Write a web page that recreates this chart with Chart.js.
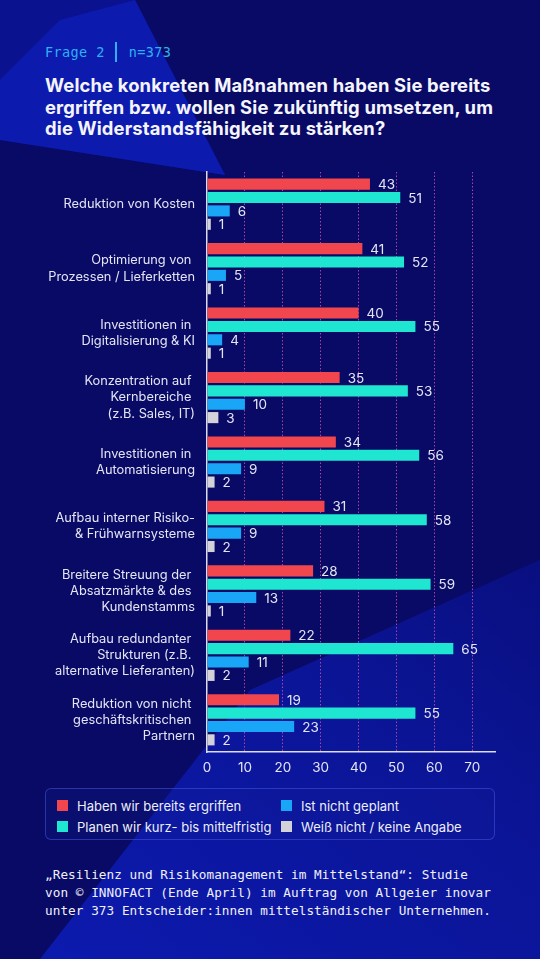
<!DOCTYPE html>
<html lang="de">
<head>
<meta charset="utf-8">
<script src="https://cdn.jsdelivr.net/npm/chart.js@4.4.1/dist/chart.umd.min.js"></script>
<style>
  html, body { margin: 0; padding: 0; }
  body {
    width: 540px; height: 959px; overflow: hidden; position: relative;
    background: #080a66; font-family: Inter, "Noto Sans", sans-serif;
  }
  #bg { position: absolute; left: 0; top: 0; }
  .frage {
    position: absolute; left: 45px; top: 42px; letter-spacing: 0.4px;
    font-family: "DejaVu Sans Mono", monospace; font-size: 13.5px; color: #2cb2f2;
  }
  .frage .sep { display: inline-block; width: 2px; height: 20px; background: #2cb2f2; vertical-align: -5px; margin: 0 12px 0 10px; }
  h1 {
    position: absolute; left: 45px; top: 75px; margin: 0; width: 490px;
    font-size: 18.4px; line-height: 21.5px; font-weight: 700; color: #f4f4fb;
    letter-spacing: 0.15px; white-space: nowrap;
  }
  #wrap { position: absolute; left: 0; top: 160px; width: 540px; height: 625px; }
  #legend {
    position: absolute; left: 45px; top: 788px; width: 448px; height: 50px;
    border: 1px solid rgba(70, 90, 230, 0.5); border-radius: 6px;
    background: rgba(20, 30, 150, 0.2);
  }
  .lg { position: absolute; font-size: 13px; color: #eceef8; white-space: nowrap; line-height: 16px; }
  .lg i { position: absolute; left: -20px; top: 2px; width: 11px; height: 11px; }
  .foot {
    position: absolute; left: 45px; top: 866px; margin: 0;
    font-family: "DejaVu Sans Mono", monospace; font-size: 12.7px; line-height: 18px; color: #f0f0f8;
    white-space: pre; letter-spacing: 0.05px;
  }
</style>
</head>
<body>
<svg id="bg" width="540" height="959">
  <defs>
    <linearGradient id="lr" x1="0" y1="1" x2="1" y2="0">
      <stop offset="0" stop-color="#0c1aae"/>
      <stop offset="0.6" stop-color="#0b1598"/>
      <stop offset="1" stop-color="#090f80"/>
    </linearGradient>
  </defs>
  <polygon points="0,0 135,0 225,175 0,140" fill="#0a1290"/>
  <polygon points="135,0 225,175 0,140 0,80 60,20" fill="#0c1aae"/>
  <polygon points="40,959 250,690 540,560 540,959" fill="url(#lr)"/>
</svg>

<div class="frage">Frage 2<span class="sep"></span>n=373</div>
<h1>Welche konkreten Maßnahmen haben Sie bereits<br>ergriffen bzw. wollen Sie zukünftig umsetzen, um<br>die Widerstandsfähigkeit zu stärken?</h1>

<div id="wrap"><canvas id="chart"></canvas></div>
<div id="legend"></div>

<p class="foot">„Resilienz und Risikomanagement im Mittelstand“: Studie
von © INNOFACT (Ende April) im Auftrag von Allgeier inovar
unter 373 Entscheider:innen mittelständischer Unternehmen.</p>

<script>
// Kategorien (mehrzeilige Beschriftungen)
const categories = [
    ['Reduktion von Kosten'],
    ['Optimierung von ', 'Prozessen / Lieferketten'],
    ['Investitionen in ', 'Digitalisierung & KI'],
    ['Konzentration auf ', 'Kernbereiche ', '(z.B. Sales, IT)'],
    ['Investitionen in ', 'Automatisierung'],
    ['Aufbau interner Risiko-', '& Frühwarnsysteme'],
    ['Breitere Streuung der ', 'Absatzmärkte & des ', 'Kundenstamms'],
    ['Aufbau redundanter ', 'Strukturen (z.B. ', 'alternative Lieferanten)'],
    ['Reduktion von nicht ', 'geschäftskritischen ', 'Partnern']
];

// Werte in Prozent
const habenErgriffen = [43, 41, 40, 35, 34, 31, 28, 22, 19];
const planenKurzMittel = [51, 52, 55, 53, 56, 58, 59, 65, 55];
const nichtGeplant = [6, 5, 4, 10, 9, 9, 13, 11, 23];
const weissNicht = [1, 1, 1, 3, 2, 2, 1, 2, 2];

const seriesLabels = [
    'Haben wir bereits ergriffen',
    'Planen wir kurz- bis mittelfristig',
    'Ist nicht geplant',
    'Weiß nicht / keine Angabe'
];
const seriesColors = ['#f2464f', '#1fe6d0', '#1aa6f6', '#d2d2d8'];

const xTicks = [0, 10, 20, 30, 40, 50, 60, 70];

const labelColor = '#e4e5f4';

// Wertbeschriftungen rechts neben den Balken
const valueLabels = {
    id: 'valueLabels',
    afterDatasetsDraw(chart) {
        const ctx = chart.ctx;
        ctx.save();
        ctx.font = '13.5px Inter, "Noto Sans", sans-serif';
        ctx.fillStyle = labelColor;
        ctx.textAlign = 'left';
        ctx.textBaseline = 'middle';
        chart.data.datasets.forEach((ds, i) => {
            const meta = chart.getDatasetMeta(i);
            meta.data.forEach((bar, j) => {
                ctx.fillText(String(ds.data[j]), bar.x + 8, bar.y + 1);
            });
        });
        ctx.restore();
    }
};

const chart = new Chart(document.getElementById('chart'), {
    type: 'bar',
    data: {
        labels: categories,
        datasets: [habenErgriffen, planenKurzMittel, nichtGeplant, weissNicht].map((data, i) => ({
            label: seriesLabels[i],
            data: data,
            backgroundColor: seriesColors[i],
            categoryPercentage: 0.83,
            barPercentage: 0.83
        }))
    },
    options: {
        indexAxis: 'y',
        responsive: true,
        maintainAspectRatio: false,
        animation: false,
        layout: { padding: { top: 12, right: 45, left: 0, bottom: 0 } },
        plugins: {
            legend: { display: false },
            tooltip: { enabled: false }
        },
        scales: {
            x: {
                min: 0,
                max: 76,
                afterBuildTicks(scale) {
                    scale.ticks = xTicks.map(v => ({ value: v }));
                },
                afterFit(scale) {
                    scale.height = 33;
                    scale.paddingLeft = 0;
                    scale.paddingRight = 0;
                },
                grid: {
                    drawTicks: false,
                    color: ctx => (ctx.tick && ctx.tick.value === 0) ? 'rgba(0,0,0,0)' : 'rgba(205, 75, 165, 0.85)',
                    lineWidth: 1
                },
                border: { display: true, color: '#dcdcf0', width: 1.5, dash: [1.5, 2] },
                ticks: {
                    color: labelColor,
                    padding: 8,
                    font: { size: 13.5, family: 'Inter, "Noto Sans", sans-serif' }
                }
            },
            y: {
                afterFit(scale) {
                    scale.width = 207;
                    scale.paddingTop = 0;
                    scale.paddingBottom = 0;
                },
                grid: { display: false, drawTicks: false },
                border: { display: true, color: '#dcdcf0', width: 1.5 },
                ticks: {
                    color: labelColor,
                    padding: 12,
                    font: { size: 12.8, lineHeight: 1.26, family: 'Inter, "Noto Sans", sans-serif' }
                }
            }
        }
    },
    plugins: [valueLabels]
});

// Legende aus den Datensätzen aufbauen
const legendPos = [
    { left: 31, top: 9 }, { left: 31, top: 30 },
    { left: 255, top: 9 }, { left: 255, top: 30 }
];
const legendEl = document.getElementById('legend');
chart.data.datasets.forEach((ds, i) => {
    const item = document.createElement('div');
    item.className = 'lg';
    item.style.left = legendPos[i].left + 'px';
    item.style.top = legendPos[i].top + 'px';
    item.innerHTML = '<i style="background:' + ds.backgroundColor + '"></i>' + ds.label;
    legendEl.appendChild(item);
});
</script>
</body>
</html>
